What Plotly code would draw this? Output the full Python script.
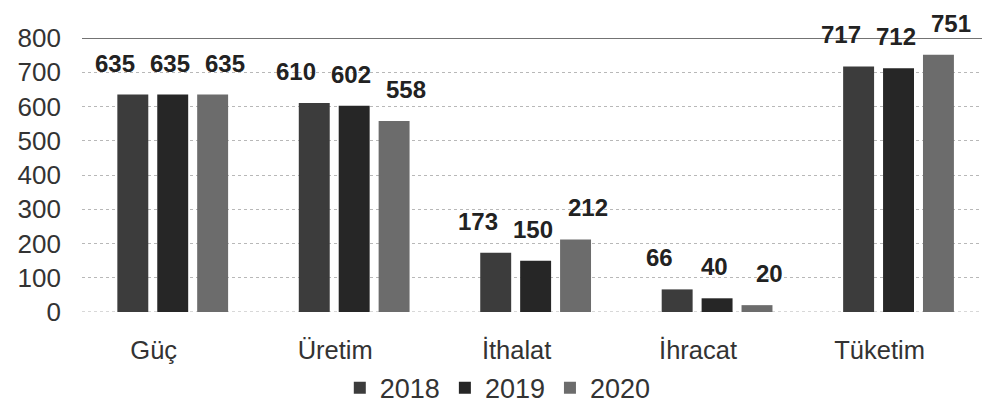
import plotly.graph_objects as go

categories = ["Güç", "Üretim", "İthalat", "İhracat", "Tüketim"]
years = ["2018", "2019", "2020"]
values_2018 = [635, 610, 173, 66, 717]
values_2019 = [635, 602, 150, 40, 712]
values_2020 = [635, 558, 212, 20, 751]
y_ticks = [0, 100, 200, 300, 400, 500, 600, 700, 800]

series = [values_2018, values_2019, values_2020]
colors = ["#3c3c3c", "#262626", "#6c6c6c"]
FONT = "Liberation Sans, Arial, sans-serif"

fig = go.Figure()
for name, vals, col in zip(years, series, colors):
    fig.add_trace(go.Bar(x=categories, y=vals, name=name, marker_color=col,
                         marker_line_width=0))

# value labels above bars
shifts = [-18, -3, 12]
for vals, sh, k in zip(series, shifts, range(3)):
    for cat, v in zip(categories, vals):
        fig.add_annotation(x=cat, y=v, text=f"<b>{v}</b>", showarrow=False,
                           xref="x", yref="y", yanchor="bottom",
                           xshift=(k - 1) * 40 + sh, yshift=16,
                           font=dict(family=FONT, size=24, color="#222222"))

fig.add_shape(type="line", xref="paper", yref="y", x0=0, x1=1, y0=800, y1=800,
              line=dict(color="#444444", width=1.5))

fig.update_layout(
    width=982, height=412,
    margin=dict(l=82, r=0, t=38, b=100, autoexpand=False),
    paper_bgcolor="white", plot_bgcolor="white",
    barmode="group", bargap=0.34, bargroupgap=0.225,
    font=dict(family=FONT, color="#333333"),
    legend=dict(orientation="h", x=0.462, xanchor="center", yref="container",
                y=0.058, yanchor="middle", font=dict(size=27, color="#333333"),
                traceorder="normal"),
    xaxis=dict(range=[-0.5, 4.46], showgrid=False, zeroline=False, showline=False,
               automargin=False,
               ticks="", ticklabelstandoff=20, ticklabelshift=-19,
               tickfont=dict(size=25.5, color="#333333")),
    yaxis=dict(range=[0, 800], tickvals=y_ticks, showgrid=True, gridcolor="#b8b8b8",
               griddash="dot", gridwidth=1, zeroline=False, showline=False,
               automargin=False,
               ticks="", ticklabelstandoff=20,
               tickfont=dict(size=26, color="#333333")),
    showlegend=True,
)
fig.add_shape(type="line", xref="paper", yref="y", x0=0, x1=1, y0=0, y1=0,
              line=dict(color="#b0b0b0", width=1, dash="dot"), layer="below")

fig.write_html("out.html", config={"displayModeBar": False},
               post_script="document.body.style.margin='0';document.body.style.overflow='hidden';")
